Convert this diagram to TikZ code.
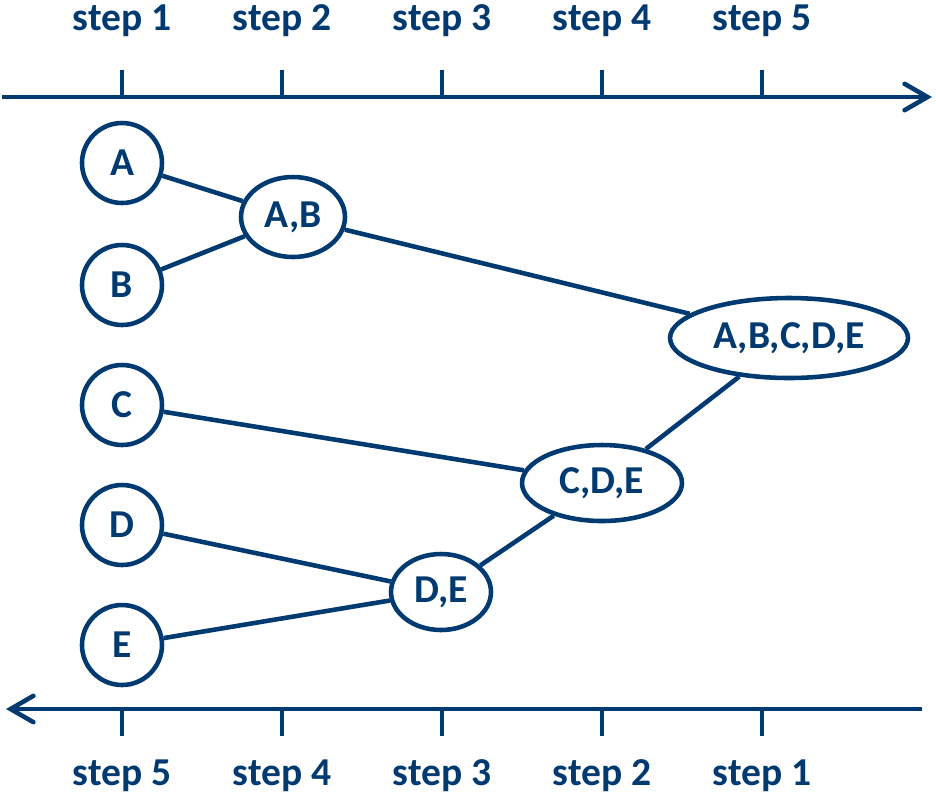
\documentclass[tikz,border=0pt]{standalone}
\usepackage{fontspec}
\setmainfont{Carlito}
\usetikzlibrary{shapes.geometric,arrows.meta}
\definecolor{navy}{RGB}{0,58,112}

\tikzset{
    leaf/.style={circle, draw=navy, line width=2.6pt, inner sep=0pt,
      minimum size=1.6cm, text=navy, font=\fontsize{22.5}{26}\selectfont\bfseries},
    merged/.style={ellipse, draw=navy, line width=2.6pt, inner sep=0pt,
      text=navy, font=\fontsize{22.5}{26}\selectfont\bfseries},
    link/.style={draw=navy, line width=2.6pt},
    axis/.style={draw=navy, line width=2.6pt,
      -{Straight Barb[length=13pt, width=15pt, line cap=round]}},
    tickmark/.style={draw=navy, line width=2.6pt},
    steplabel/.style={anchor=base, text=navy, font=\fontsize{22.5}{26}\selectfont\bfseries}
  }

\begin{document}
\begin{tikzpicture}[x=0.02cm, y=-0.02cm]
    \useasboundingbox (0,0) rectangle (936,796);

    % time axes
    \coordinate (topl) at (2,97);
    \coordinate (topr) at (932,97);
    \coordinate (botl) at (6,709);
    \coordinate (botr) at (922,709);
    \draw[axis] (topl) -- (topr);
    \draw[axis] (botr) -- (botl);

    \foreach \i/\x in {1/122, 2/282, 3/442, 4/602, 5/762} {
      \coordinate (tt\i) at (\x,70);
      \coordinate (tb\i) at (\x,97);
      \draw[tickmark] (tt\i) -- (tb\i);
      \node[steplabel] (up\i) at (\x,30) {step \i};
    }
    \foreach \i/\x in {5/122, 4/282, 3/442, 2/602, 1/762} {
      \coordinate (bt\i) at (\x,709);
      \coordinate (bb\i) at (\x,736);
      \draw[tickmark] (bt\i) -- (bb\i);
      \node[steplabel] (down\i) at (\x,785) {step \i};
    }

    % clusters
    \node[leaf] (a) at (122,163) {A};
    \node[leaf] (b) at (122,285) {B};
    \node[leaf] (c) at (122,405) {C};
    \node[leaf] (d) at (122,525) {D};
    \node[leaf] (e) at (122,645) {E};

    \node[merged, minimum width=2.08cm, minimum height=1.6cm] (ab) at (293,217) {A,B};
    \node[merged, minimum width=2.0cm, minimum height=1.52cm] (de) at (441,592) {D,E};
    \node[merged, minimum width=3.2cm, minimum height=1.52cm] (cde) at (602,483) {C,D,E};
    \node[merged, minimum width=4.76cm, minimum height=1.6cm] (abcde) at (789,338) {A,B,C,D,E};

    \draw[link] (a) -- (ab);
    \draw[link] (b) -- (ab);
    \draw[link] (ab) -- (abcde);
    \draw[link] (c) -- (cde);
    \draw[link] (d) -- (de);
    \draw[link] (e) -- (de);
    \draw[link] (de) -- (cde);
    \draw[link] (cde) -- (abcde);

\end{tikzpicture}
\end{document}
